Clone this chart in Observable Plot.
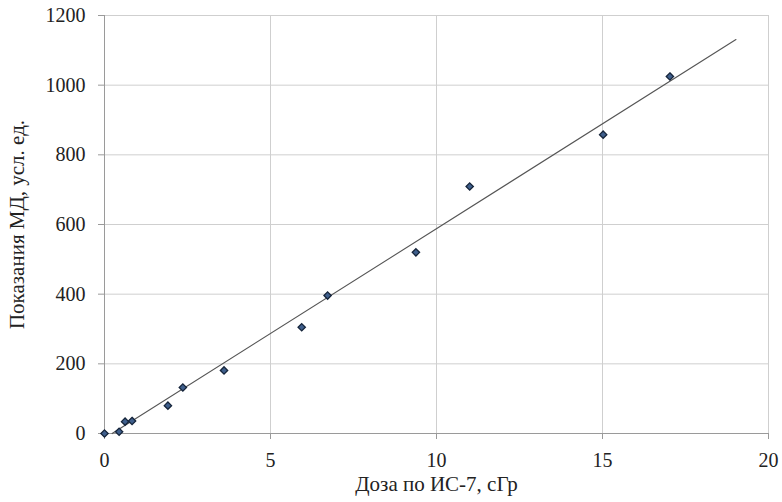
<!DOCTYPE html>
<html>
<head>
<meta charset="utf-8">
<script src="https://cdn.jsdelivr.net/npm/d3@7"></script>
<script src="https://cdn.jsdelivr.net/npm/@observablehq/plot@0.6"></script>
<style>
  html, body { margin: 0; padding: 0; background: #fff; }
</style>
</head>
<body>
<div id="chart"></div>
<script>
// Data
const doseX = [0, 0.44, 0.62, 0.83, 1.91, 2.36, 3.6, 5.94, 6.72, 9.38, 11.0, 15.02, 17.03];
const readingY = [0, 5, 34, 36, 80, 132, 181, 305, 396, 520, 709, 858, 1025];
const xTicks = [0, 5, 10, 15, 20];
const yTicks = [0, 200, 400, 600, 800, 1000, 1200];
const trendSlope = 60.2;
const trendIntercept = -14;
const trendRange = [0.23, 19.02];
const xLabel = "Доза по ИС-7, сГр";
const yLabel = "Показания МД, усл. ед.";

const points = doseX.map((x, i) => ({x, y: readingY[i]}));
const trend = trendRange.map(x => ({x, y: trendSlope * x + trendIntercept}));

const chart = Plot.plot({
  width: 782,
  height: 502,
  marginLeft: 104,
  marginRight: 14,
  marginTop: 15,
  marginBottom: 69,
  style: {fontFamily: "'Liberation Serif', 'Times New Roman', serif", fontSize: "20px", color: "#222", background: "#fff"},
  x: {domain: [0, 20]},
  y: {domain: [0, 1200]},
  marks: [
    Plot.gridX(xTicks, {stroke: "#cfcfcf", strokeOpacity: 1, strokeWidth: 1}),
    Plot.gridY(yTicks, {stroke: "#cfcfcf", strokeOpacity: 1, strokeWidth: 1}),
    Plot.ruleX([0], {stroke: "#9a9a9a"}),
    Plot.ruleY([0], {stroke: "#9a9a9a"}),
    Plot.axisX(xTicks, {tickSize: 6, tickPadding: 13, stroke: "#9a9a9a", fill: "#222", fontSize: 20,
      tickFormat: d3.format("d"), label: null}),
    Plot.axisY(yTicks, {tickSize: 6, tickPadding: 13, stroke: "#9a9a9a", fill: "#222", fontSize: 20,
      tickFormat: d3.format("d"), label: null}),
    Plot.axisX({tickSize: 0, ticks: [], fill: "#222", fontSize: 21,
      label: xLabel, labelAnchor: "center", labelArrow: "none", labelOffset: 57}),
    Plot.axisY({tickSize: 0, ticks: [], fill: "#222", fontSize: 21,
      label: yLabel, labelAnchor: "center", labelArrow: "none", labelOffset: 95}),
    Plot.line(trend, {x: "x", y: "y", stroke: "#555", strokeWidth: 1.1}),
    Plot.dot(points, {x: "x", y: "y", symbol: "diamond2", r: 3.3, fill: "#3f5f8c", stroke: "#15243a", strokeWidth: 1.3})
  ]
});
document.getElementById("chart").appendChild(chart);
</script>
</body>
</html>
